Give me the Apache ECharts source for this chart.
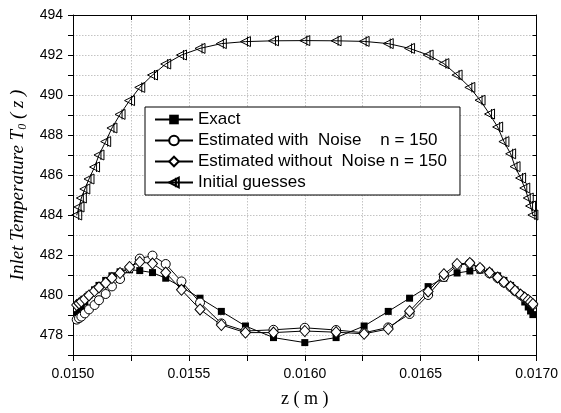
<!DOCTYPE html>
<html>
<head>
<meta charset="utf-8">
<script src="https://cdn.jsdelivr.net/npm/echarts@6/dist/echarts.min.js"></script>
<style>html,body{margin:0;padding:0;background:#fff}#c{width:561px;height:413px}</style>
</head>
<body>
<div id="c"></div>
<script>
const zPos = [0.015016,0.015026,0.015036,0.015051,0.015069,0.015093,0.015112,0.015141,0.015168,0.015203,0.015244,0.015288,0.015343,0.015400,0.015468,0.015548,0.015640,0.015744,0.015865,0.016000,0.016135,0.016256,0.016360,0.016452,0.016532,0.016600,0.016657,0.016712,0.016756,0.016797,0.016832,0.016859,0.016888,0.016907,0.016931,0.016949,0.016964,0.016974,0.016984];
const exact = [479.02,479.2,479.4,479.65,480.0,480.26,480.48,480.73,480.96,481.16,481.26,481.22,481.12,480.84,480.4,479.84,479.18,478.45,477.87,477.62,477.87,478.45,479.18,479.84,480.42,480.84,481.1,481.2,481.24,481.14,480.96,480.73,480.48,480.26,480.0,479.65,479.4,479.2,479.02];
const withNoise = [478.77,478.84,478.92,479.08,479.28,479.5,479.74,480.05,480.43,480.8,481.34,481.82,481.97,481.55,480.68,479.62,478.58,478.2,478.26,478.36,478.25,478.11,478.38,479.05,480.0,480.9,481.48,481.58,481.32,481.08,480.85,480.62,480.4,480.2,480.0,479.85,479.72,479.62,479.52];
const withoutNoise = [479.5,479.58,479.67,479.8,479.98,480.2,480.38,480.6,480.85,481.1,481.4,481.65,481.57,481.12,480.26,479.28,478.5,478.12,478.12,478.2,478.14,478.06,478.3,479.19,480.18,481.04,481.55,481.6,481.35,481.12,480.88,480.65,480.42,480.22,480.02,479.87,479.75,479.65,479.55];
const initialGuess = [484.0,484.4,484.85,485.3,485.8,486.4,487.0,487.67,488.35,489.03,489.72,490.38,491.0,491.55,492.0,492.33,492.57,492.67,492.71,492.72,492.71,492.68,492.57,492.33,492.0,491.57,491.0,490.38,489.74,489.05,488.4,487.67,487.06,486.42,485.85,485.35,484.85,484.45,484.0];
const seriesNames = ['Exact','Estimated with  Noise    n = 150','Estimated without  Noise n = 150','Initial guesses'];

const pairs = ys => zPos.map((z, i) => [z, ys[i]]);
const chart = echarts.init(document.getElementById('c'), null, {renderer: 'canvas'});
const gridLine = {show: true, lineStyle: {color: '#c4c4c4', type: [1.5, 1.5], width: 1}};
const axisLineStyle = {lineStyle: {color: '#000', width: 1}};
const base = {type: 'line', showAllSymbol: true, lineStyle: {color: '#000', width: 1}, emphasis: {disabled: true}, animation: false};

chart.setOption({
  animation: false,
  backgroundColor: '#fff',
  grid: {left: 73, right: 18, top: 15, bottom: 56},
  legend: {
    orient: 'vertical', left: 145, top: 107,
    backgroundColor: '#fff', borderColor: '#000', borderWidth: 1, borderRadius: 0,
    padding: [4, 13, 4, 9], itemGap: 4, itemWidth: 38, itemHeight: 12,
    textStyle: {fontFamily: 'Liberation Sans, Arial', fontSize: 17, color: '#000'},
    data: seriesNames
  },
  xAxis: [{
    type: 'value', min: 0.015, max: 0.017, interval: 0.00025,
    axisLine: {onZero: false, ...axisLineStyle},
    axisTick: {show: true, inside: false, length: 6, lineStyle: {color: '#000'}},
    axisLabel: {margin: 12, fontFamily: 'Liberation Sans, Arial', fontSize: 14, color: '#000',
      showMaxLabel: true, showMinLabel: true,
      formatter: (v, i) => (Math.round(v * 1e5) % 50 === 0 ? v.toFixed(4) : '')},
    splitLine: gridLine,
    name: 'z ( m )', nameLocation: 'middle', nameGap: 35,
    nameTextStyle: {fontFamily: 'Liberation Serif, Times New Roman', fontSize: 18, color: '#000'}
  }, {
    type: 'value', position: 'top', min: 0.015, max: 0.017, interval: 0.00025,
    axisLine: {onZero: false, ...axisLineStyle},
    axisTick: {show: true, inside: true, length: 5, lineStyle: {color: '#000'}},
    axisLabel: {show: false}, splitLine: {show: false}
  }],
  yAxis: [{
    type: 'value', min: 477, max: 494, interval: 1,
    axisLine: {show: true, onZero: false, ...axisLineStyle},
    axisTick: {show: true, inside: false, length: 5, lineStyle: {color: '#000'}},
    axisLabel: {margin: 10, fontFamily: 'Liberation Sans, Arial', fontSize: 14, color: '#000',
      formatter: v => (v % 2 === 0 ? String(v) : '')},
    splitLine: gridLine,
    name: '{i|Inlet Temperature T}{s|0}{i| ( z )}', nameLocation: 'middle', nameGap: 42,
    nameTextStyle: {rich: {
      i: {fontFamily: 'Liberation Serif, Times New Roman', fontStyle: 'italic', fontSize: 19, color: '#000'},
      s: {fontFamily: 'Liberation Serif, Times New Roman', fontStyle: 'italic', fontSize: 12, color: '#000', padding: [9, 0, 0, 0]}
    }}
  }, {
    type: 'value', position: 'right', min: 477, max: 494, interval: 1,
    axisLine: {show: true, onZero: false, ...axisLineStyle},
    axisTick: {show: true, inside: true, length: 4, lineStyle: {color: '#000'}},
    axisLabel: {show: false}, splitLine: {show: false}
  }],
  series: [
    {...base, name: seriesNames[0], data: pairs(exact), symbol: 'rect', symbolSize: 7,
      itemStyle: {color: '#000', borderColor: '#000', borderWidth: 0}},
    {...base, name: seriesNames[1], data: pairs(withNoise), symbol: 'circle', symbolSize: 9,
      itemStyle: {color: '#fff', borderColor: '#000', borderWidth: 1}},
    {...base, name: seriesNames[2], data: pairs(withoutNoise), symbol: 'diamond', symbolSize: [10, 11],
      itemStyle: {color: '#fff', borderColor: '#000', borderWidth: 1}},
    {...base, name: seriesNames[3], data: pairs(initialGuess), symbol: 'path://M0,5 L10,0 L10,10 Z M7,0 L7,10', symbolSize: [10, 10],
      itemStyle: {color: 'rgba(255,255,255,0)', borderColor: '#000', borderWidth: 1}}
  ]
});
</script>
</body>
</html>
